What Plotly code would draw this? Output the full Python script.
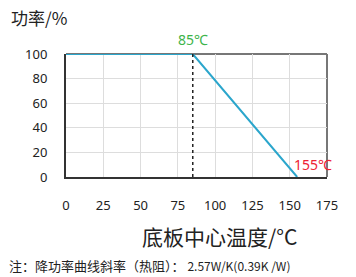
import plotly.graph_objects as go

temp = [0, 85, 155]
power = [100, 100, 0]
x_ticks = [0, 25, 50, 75, 100, 125, 150, 175]
y_ticks = [0, 20, 40, 60, 80, 100]
knee_temp = 85
max_temp = 155

FONT = "Noto Sans, Noto Sans CJK SC, sans-serif"
CJK = "Noto Sans CJK SC, sans-serif"

fig = go.Figure()
fig.add_shape(type="line", x0=knee_temp, x1=knee_temp, y0=0, y1=100,
              line=dict(color="#222222", width=1.5, dash="dot"), layer="above")
fig.add_trace(go.Scatter(x=temp, y=power, mode="lines",
                         line=dict(color="#2ba6cc", width=2), showlegend=False,
                         cliponaxis=False))

fig.add_annotation(x=knee_temp, y=100, text="85℃", showarrow=False,
                   xanchor="center", yanchor="bottom", yshift=3, xshift=0,
                   font=dict(family=FONT, size=14, color="#3db44a"))
fig.add_annotation(x=max_temp, y=0, text="155℃", showarrow=False,
                   xanchor="left", yanchor="bottom", yshift=1, xshift=-5,
                   font=dict(family=FONT, size=14, color="#ee2233"))

fig.add_annotation(xref="paper", yref="paper", x=-0.22, y=1.18, text="功率/%",
                   showarrow=False, xanchor="left", yanchor="bottom",
                   font=dict(family=CJK, size=17, color="#222222"))
fig.add_annotation(xref="paper", yref="paper", x=0.59, y=-0.48, text="底板中心温度/°C",
                   showarrow=False, xanchor="center", yanchor="middle",
                   font=dict(family=CJK, size=21, color="#222222"))
fig.add_annotation(xref="paper", yref="paper", x=-0.225, y=-0.72,
                   text="注：降功率曲线斜率（热阻）： <span style='font-size:12px'>2.57W/K(0.39K /W)</span>",
                   showarrow=False, xanchor="left", yanchor="middle",
                   font=dict(family=CJK, size=13, color="#222222"))

fig.update_xaxes(range=[0, 175], tickvals=x_ticks, showgrid=True, gridcolor="#dddddd",
                 gridwidth=1, zeroline=False, showline=True, linecolor="#333333",
                 linewidth=2, mirror=False, ticks="outside", ticklen=15,
                 tickcolor="rgba(0,0,0,0)", tickfont=dict(family=FONT, size=13, color="#222222"))
fig.update_yaxes(range=[0, 100], tickvals=y_ticks, showgrid=True, gridcolor="#dddddd",
                 gridwidth=1, zeroline=False, showline=True, linecolor="#333333",
                 linewidth=2, ticks="outside", ticklen=14,
                 tickcolor="rgba(0,0,0,0)", tickfont=dict(family=FONT, size=13, color="#222222"))

# top and right frame (gray)
fig.add_shape(type="line", xref="paper", yref="paper", x0=0, x1=1, y0=1, y1=1,
              line=dict(color="#777777", width=2), layer="below")
fig.add_shape(type="line", xref="paper", yref="paper", x0=1, x1=1, y0=0, y1=1,
              line=dict(color="#777777", width=2), layer="below")

fig.update_layout(width=356, height=277, margin=dict(l=66, r=29, t=54, b=100),
                  plot_bgcolor="white", paper_bgcolor="white")
fig.write_html("out.html")
